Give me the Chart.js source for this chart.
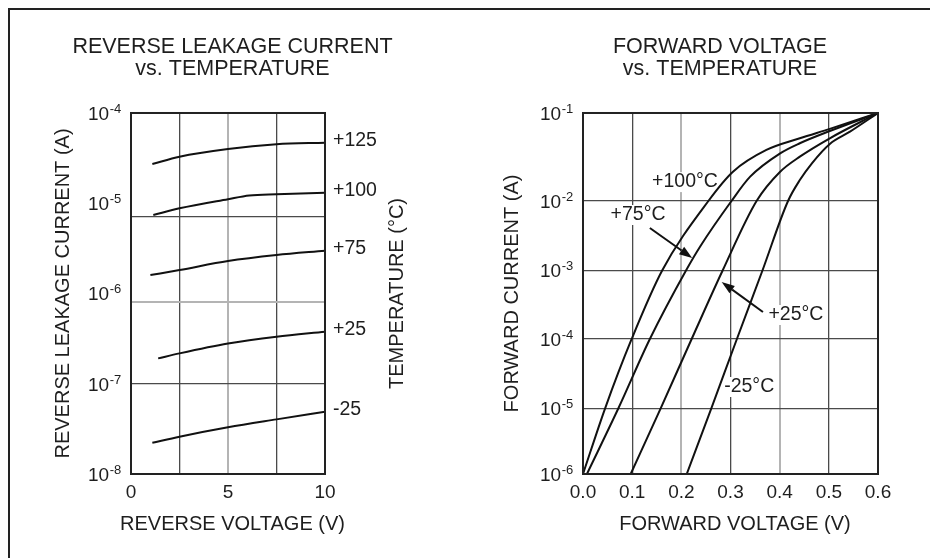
<!DOCTYPE html>
<html>
<head>
<meta charset="utf-8">
<title>Reverse leakage current / forward voltage vs. temperature</title>
<script src="https://cdn.jsdelivr.net/npm/chart.js"></script>
<style>
  html, body { margin: 0; padding: 0; background: #fff; overflow: hidden; }
  #page { position: relative; width: 930px; height: 558px; overflow: hidden; background: #fff; }
  #page canvas { position: absolute; top: 0; }
  #frame { position: absolute; left: 8px; top: 8px; width: 1000px; height: 1000px;
           border-left: 2px solid #222; border-top: 2px solid #222; pointer-events: none; }
</style>
</head>
<body>
<div id="page">
  <canvas id="leakChart" width="465" height="558" style="left:0"></canvas>
  <canvas id="fwdChart" width="510" height="558" style="left:465px"></canvas>
  <div id="frame"></div>
</div>
<script>
const FONT = '"Liberation Sans", Arial, Helvetica, sans-serif';
const INK = '#1e1e1e';
const CURVE = '#111';
const GRID_DARK = '#4a4a4a';
const GRID_LIGHT = '#b4b4b4';

// left panel: reverse leakage current (A) vs reverse voltage (V)
const leakTemps = ['+125', '+100', '+75', '+25', '-25'];
const leakV125 = [1.1, 2.5, 5, 7.5, 10];
const leakI125 = [2.72e-5, 3.28e-5, 3.99e-5, 4.5e-5, 4.69e-5];
const leakV100 = [1.15, 2.5, 5, 6.1, 7.5, 10];
const leakI100 = [7.41e-6, 8.79e-6, 1.11e-5, 1.22e-5, 1.26e-5, 1.31e-5];
const leakV75 = [1.0, 2.5, 5, 7.5, 10];
const leakI75 = [1.6e-6, 1.82e-6, 2.29e-6, 2.67e-6, 2.98e-6];
const leakV25 = [1.4, 2.5, 5, 7.5, 10];
const leakI25 = [1.91e-7, 2.17e-7, 2.79e-7, 3.32e-7, 3.77e-7];
const leakVm25 = [1.1, 2.5, 5, 7.5, 10];
const leakIm25 = [2.22e-8, 2.59e-8, 3.29e-8, 4.03e-8, 4.9e-8];

const leakXTicks = [0, 2.5, 5, 7.5, 10];
const leakXLabels = ['0', '', '5', '', '10'];
const leakYTicks = [1e-8, 1e-7, 1e-6, 1e-5, 1e-4];
const leakYExponents = ['-8', '-7', '-6', '-5', '-4'];
const leakGridLevels = [7.04e-6, 8.05e-7, 1e-7]; // rules as printed (not on the decades)

// right panel: forward current (A) vs forward voltage (V)
const fwdTemps = ['+100°C', '+75°C', '+25°C', '-25°C'];
const fwdV100 = [0, 0.045, 0.099, 0.161, 0.255, 0.305, 0.373, 0.441, 0.502, 0.6];
const fwdI100 = [1e-6, 1e-5, 1e-4, 1e-3, 1e-2, 2.15e-2, 3.8e-2, 5.16e-2, 6.6e-2, 1e-1];
const fwdV75 = [0.008, 0.072, 0.136, 0.2095, 0.238, 0.302, 0.34, 0.401, 0.441, 0.502, 0.6];
const fwdI75 = [1e-6, 1e-5, 1e-4, 1e-3, 2.2e-3, 1e-2, 1.89e-2, 3.48e-2, 4.53e-2, 6.24e-2, 1e-1];
const fwdV25 = [0.097, 0.158, 0.221, 0.284, 0.353, 0.401, 0.441, 0.502, 0.6];
const fwdI25 = [1e-6, 1e-5, 1e-4, 1e-3, 1e-2, 2.15e-2, 3.19e-2, 5.16e-2, 1e-1];
const fwdVm25 = [0.211, 0.261, 0.313, 0.365, 0.417, 0.441, 0.466, 0.502, 0.543, 0.6];
const fwdIm25 = [1e-6, 1e-5, 1e-4, 1e-3, 1e-2, 1.73e-2, 2.7e-2, 4.45e-2, 6.13e-2, 1e-1];

const fwdXTicks = [0, 0.1, 0.2, 0.3, 0.4, 0.5, 0.6];
const fwdXLabels = ['0.0', '0.1', '0.2', '0.3', '0.4', '0.5', '0.6'];
const fwdYTicks = [1e-6, 1e-5, 1e-4, 1e-3, 1e-2, 1e-1];
const fwdYExponents = ['-6', '-5', '-4', '-3', '-2', '-1'];

const pts = (xs, ys) => xs.map((x, i) => ({ x: x, y: ys[i] }));
const fixTicks = values => scale => { scale.ticks = values.map(v => ({ value: v })); };

// the printed log axis on the right panel has uneven decades, so the
// log scale is bent piecewise between decade stops
class BentLogScale extends Chart.LogarithmicScale {
  decadeStops() {
    return this.options.decadeStops || [0, 0.2, 0.4, 0.6, 0.8, 1];
  }
  getPixelForValue(value) {
    if (value === undefined || value === 0) value = this.min;
    if (value === null || isNaN(value)) return NaN;
    const stops = this.decadeStops();
    const lg = Math.log10(value) - Math.log10(this.min);
    const i = Math.min(Math.max(Math.floor(lg), 0), stops.length - 2);
    return this.getPixelForDecimal(stops[i] + (lg - i) * (stops[i + 1] - stops[i]));
  }
  getValueForPixel(pixel) {
    const stops = this.decadeStops();
    const dec = this.getDecimalForPixel(pixel);
    let i = 0;
    while (i < stops.length - 2 && dec > stops[i + 1]) i++;
    const lg = i + (dec - stops[i]) / (stops[i + 1] - stops[i]);
    return this.min * Math.pow(10, lg);
  }
}
BentLogScale.id = 'bentLog';
BentLogScale.defaults = Chart.LogarithmicScale.defaults;
Chart.register(BentLogScale);

const plotFrame = {
  id: 'plotFrame',
  afterDatasetsDraw(chart) {
    const { ctx, chartArea: a } = chart;
    ctx.save();
    ctx.strokeStyle = '#222';
    ctx.lineWidth = 2;
    ctx.strokeRect(a.left, a.top, a.right - a.left, a.bottom - a.top);
    ctx.restore();
  }
};

// "10" with a raised exponent, left aligned like the print
function powerTicks(values, exponents) {
  return {
    id: 'powerTicks',
    afterDraw(chart) {
      const ctx = chart.ctx;
      const y = chart.scales.y;
      const x = chart.chartArea.left - 43;
      ctx.save();
      ctx.fillStyle = INK;
      ctx.textAlign = 'left';
      ctx.textBaseline = 'alphabetic';
      values.forEach((v, i) => {
        const py = y.getPixelForValue(v);
        ctx.font = '19px ' + FONT;
        ctx.fillText('10', x, py + 6.8);
        const w = ctx.measureText('10').width;
        ctx.font = '13px ' + FONT;
        ctx.fillText(exponents[i], x + w + 0.5, py);
      });
      ctx.restore();
    }
  };
}

// x axis title drawn by hand: Chart.js squeezes it to the plot width
function xTitle(text) {
  return {
    id: 'xTitle',
    afterDraw(chart) {
      const { ctx, chartArea: a } = chart;
      ctx.save();
      ctx.fillStyle = INK;
      ctx.font = '20px ' + FONT;
      ctx.textAlign = 'center';
      ctx.textBaseline = 'middle';
      ctx.fillText(text, (a.left + a.right) / 2 + 4.5, a.bottom + 50.3);
      ctx.restore();
    }
  };
}

const leakNotes = {
  id: 'leakNotes',
  afterDraw(chart) {
    const { ctx, chartArea: a, scales } = chart;
    ctx.save();
    ctx.fillStyle = INK;
    ctx.font = '19.5px ' + FONT;
    ctx.textBaseline = 'middle';
    ctx.textAlign = 'left';
    chart.data.datasets.forEach(ds => {
      const last = ds.data[ds.data.length - 1];
      ctx.fillText(ds.label, a.right + 8, scales.y.getPixelForValue(last.y) - 2);
    });
    ctx.translate(a.right + 72, (a.top + a.bottom) / 2);
    ctx.rotate(-Math.PI / 2);
    ctx.textAlign = 'center';
    ctx.font = '20px ' + FONT;
    ctx.fillText('TEMPERATURE (°C)', 0, 0);
    ctx.restore();
  }
};

function arrow(ctx, x1, y1, x2, y2) {
  const a = Math.atan2(y2 - y1, x2 - x1);
  const len = 13, half = 4.5;
  const bx = x2 - len * Math.cos(a), by = y2 - len * Math.sin(a);
  ctx.beginPath();
  ctx.moveTo(x1, y1);
  ctx.lineTo(bx, by);
  ctx.stroke();
  ctx.beginPath();
  ctx.moveTo(x2, y2);
  ctx.lineTo(bx + half * Math.sin(a), by - half * Math.cos(a));
  ctx.lineTo(bx - half * Math.sin(a), by + half * Math.cos(a));
  ctx.closePath();
  ctx.fill();
}

const fwdNotes = {
  id: 'fwdNotes',
  // label anchors in data units (V, A)
  notes: [
    { x: 0.2075, y: 1.64e-2 },
    { x: 0.112, y: 6.29e-3 },
    { x: 0.433, y: 2.24e-4 },
    { x: 0.338, y: 2.03e-5 }
  ],
  arrows: [
    { x1: 0.136, y1: 4.09e-3, x2: 0.222, y2: 1.51e-3 },
    { x1: 0.366, y1: 2.48e-4, x2: 0.282, y2: 6.79e-4 }
  ],
  beforeDatasetsDraw(chart) {
    const { ctx, scales } = chart;
    ctx.save();
    ctx.font = '19.5px ' + FONT;
    ctx.textAlign = 'center';
    ctx.textBaseline = 'middle';
    this.notes.forEach((n, i) => {
      const px = scales.x.getPixelForValue(n.x);
      const py = scales.y.getPixelForValue(n.y);
      const w = ctx.measureText(fwdTemps[i]).width;
      ctx.fillStyle = '#fff';
      ctx.fillRect(px - w / 2 - 2, py - 10, w + 4, 20);
      ctx.fillStyle = INK;
      ctx.fillText(fwdTemps[i], px, py);
    });
    ctx.restore();
  },
  afterDatasetsDraw(chart) {
    const { ctx, scales } = chart;
    ctx.save();
    ctx.strokeStyle = CURVE;
    ctx.fillStyle = CURVE;
    ctx.lineWidth = 2;
    this.arrows.forEach(r => {
      arrow(ctx,
        scales.x.getPixelForValue(r.x1), scales.y.getPixelForValue(r.y1),
        scales.x.getPixelForValue(r.x2), scales.y.getPixelForValue(r.y2));
    });
    ctx.restore();
  }
};

const titleFont = { family: FONT, size: 21.5, weight: 'normal', lineHeight: 1.037 };
const axisTitleFont = { family: FONT, size: 20, weight: 'normal', lineHeight: 1.2 };
const tickFont = { family: FONT, size: 19, weight: 'normal' };

const commonElements = {
  point: { radius: 0, hoverRadius: 0 },
  line: { borderColor: CURVE, borderWidth: 2, cubicInterpolationMode: 'monotone', fill: false }
};

new Chart(document.getElementById('leakChart'), {
  type: 'line',
  data: {
    datasets: [
      { label: leakTemps[0], data: pts(leakV125, leakI125) },
      { label: leakTemps[1], data: pts(leakV100, leakI100) },
      { label: leakTemps[2], data: pts(leakV75, leakI75) },
      { label: leakTemps[3], data: pts(leakV25, leakI25) },
      { label: leakTemps[4], data: pts(leakVm25, leakIm25) }
    ]
  },
  options: {
    responsive: false,
    animation: false,
    events: [],
    layout: { padding: 0 },
    elements: commonElements,
    plugins: {
      legend: { display: false },
      tooltip: { enabled: false },
      title: {
        display: true,
        text: ['REVERSE LEAKAGE CURRENT', 'vs. TEMPERATURE'],
        color: INK,
        font: titleFont,
        padding: { top: 35.65, bottom: 32.75 }
      }
    },
    scales: {
      x: {
        type: 'linear', min: 0, max: 10,
        afterBuildTicks: fixTicks(leakXTicks),
        afterFit: s => { s.height = 84; },
        border: { display: false },
        grid: {
          drawTicks: false,
          color: c => (c.index === 2 ? GRID_LIGHT : GRID_DARK),
          lineWidth: c => (c.index === 2 ? 2 : 1.3)
        },
        ticks: {
          autoSkip: false, maxRotation: 0, padding: 7, color: INK, font: tickFont,
          callback: (v, i) => leakXLabels[i]
        },
        title: { display: false }
      },
      y: {
        type: 'logarithmic', min: 1e-8, max: 1e-4,
        afterBuildTicks: fixTicks(leakYTicks),
        afterFit: s => { s.width = 131; },
        border: { display: false },
        grid: { display: false },
        ticks: { display: false },
        title: {
          display: true, text: 'REVERSE LEAKAGE CURRENT (A)', color: INK, font: axisTitleFont,
          padding: { top: 51, bottom: 0 }
        }
      },
      yT: {
        type: 'logarithmic', position: 'right', min: 1e-8, max: 1e-4,
        afterBuildTicks: fixTicks(leakGridLevels),
        afterFit: s => { s.width = 140; },
        border: { display: false },
        grid: {
          drawTicks: false,
          color: c => (c.index === 1 ? GRID_LIGHT : GRID_DARK),
          lineWidth: c => (c.index === 1 ? 2 : 1.3)
        },
        ticks: { display: false }
      }
    }
  },
  plugins: [plotFrame, powerTicks(leakYTicks, leakYExponents), xTitle('REVERSE VOLTAGE (V)'), leakNotes]
});

new Chart(document.getElementById('fwdChart'), {
  type: 'line',
  data: {
    datasets: [
      { label: fwdTemps[0], data: pts(fwdV100, fwdI100) },
      { label: fwdTemps[1], data: pts(fwdV75, fwdI75) },
      { label: fwdTemps[2], data: pts(fwdV25, fwdI25) },
      { label: fwdTemps[3], data: pts(fwdVm25, fwdIm25) }
    ]
  },
  options: {
    responsive: false,
    animation: false,
    events: [],
    layout: { padding: 0 },
    elements: commonElements,
    plugins: {
      legend: { display: false },
      tooltip: { enabled: false },
      title: {
        display: true,
        text: ['FORWARD VOLTAGE', 'vs. TEMPERATURE'],
        color: INK,
        font: titleFont,
        padding: { top: 35.65, bottom: 32.75 }
      }
    },
    scales: {
      x: {
        type: 'linear', min: 0, max: 0.6,
        afterBuildTicks: fixTicks(fwdXTicks),
        afterFit: s => { s.height = 84; },
        border: { display: false },
        grid: {
          drawTicks: false,
          color: c => (c.index === 2 || c.index === 4 ? GRID_LIGHT : GRID_DARK),
          lineWidth: c => (c.index === 2 || c.index === 4 ? 2 : 1.3)
        },
        ticks: {
          autoSkip: false, maxRotation: 0, padding: 7, color: INK, font: tickFont,
          callback: (v, i) => fwdXLabels[i]
        },
        title: { display: false }
      },
      y: {
        type: 'bentLog', min: 1e-6, max: 1e-1,
        decadeStops: [0, 0.182, 0.374, 0.5637, 0.7562, 1],
        afterBuildTicks: fixTicks(fwdYTicks),
        afterFit: s => { s.width = 118; },
        border: { display: false },
        grid: { drawTicks: false, color: GRID_DARK, lineWidth: 1.3 },
        ticks: { display: false },
        title: {
          display: true, text: 'FORWARD CURRENT (A)', color: INK, font: axisTitleFont,
          padding: { top: 35.5, bottom: 0 }
        }
      },
      yPad: {
        type: 'linear', position: 'right',
        afterFit: s => { s.width = 97; },
        border: { display: false },
        grid: { display: false },
        ticks: { display: false }
      }
    }
  },
  plugins: [plotFrame, powerTicks(fwdYTicks, fwdYExponents), xTitle('FORWARD VOLTAGE (V)'), fwdNotes]
});
</script>
</body>
</html>
